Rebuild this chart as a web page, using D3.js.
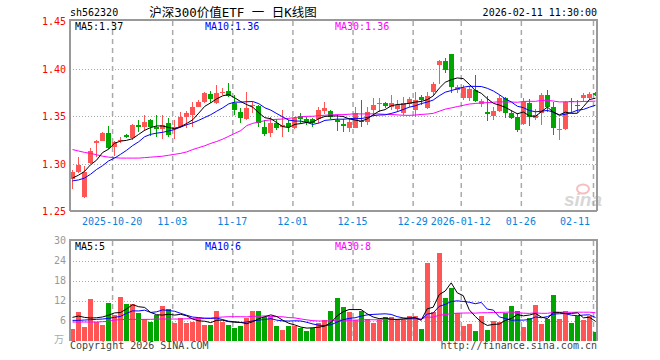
<!DOCTYPE html>
<html><head><meta charset="utf-8">
<script src="https://cdn.jsdelivr.net/npm/d3@7"></script>
<style>
html,body{margin:0;padding:0;background:#fff;}
svg{display:block;}
text{font-family:"DejaVu Sans Mono",monospace;}
</style></head><body>
<svg id="c" width="660" height="360"></svg>
<script>
const dates = [
"2025-10-09","2025-10-10","2025-10-13","2025-10-14","2025-10-15","2025-10-16","2025-10-17","2025-10-20","2025-10-21","2025-10-22",
"2025-10-23","2025-10-24","2025-10-27","2025-10-28","2025-10-29","2025-10-30","2025-10-31","2025-11-03","2025-11-04","2025-11-05",
"2025-11-06","2025-11-07","2025-11-10","2025-11-11","2025-11-12","2025-11-13","2025-11-14","2025-11-17","2025-11-18","2025-11-19",
"2025-11-20","2025-11-21","2025-11-24","2025-11-25","2025-11-26","2025-11-27","2025-11-28","2025-12-01","2025-12-02","2025-12-03",
"2025-12-04","2025-12-05","2025-12-08","2025-12-09","2025-12-10","2025-12-11","2025-12-12","2025-12-15","2025-12-16","2025-12-17",
"2025-12-18","2025-12-19","2025-12-22","2025-12-23","2025-12-24","2025-12-25","2025-12-26","2025-12-29","2025-12-30","2025-12-31",
"2026-01-05","2026-01-06","2026-01-07","2026-01-08","2026-01-09","2026-01-12","2026-01-13","2026-01-14","2026-01-15","2026-01-16",
"2026-01-19","2026-01-20","2026-01-21","2026-01-22","2026-01-23","2026-01-26","2026-01-27","2026-01-28","2026-01-29","2026-01-30",
"2026-02-02","2026-02-03","2026-02-04","2026-02-05","2026-02-06","2026-02-09","2026-02-10","2026-02-11"];

const open = [
1.2837,1.2917,1.2655,1.3005,1.3216,1.3243,1.3320,1.3180,1.3238,1.3303,
1.3270,1.3408,1.3384,1.3461,1.3390,1.3366,1.3426,1.3366,1.3390,1.3496,
1.3514,1.3601,1.3647,1.3732,1.3637,1.3755,1.3767,1.3637,1.3549,1.3468,
1.3612,1.3609,1.3391,1.3321,1.3426,1.3384,1.3433,1.3374,1.3507,1.3472,
1.3468,1.3468,1.3556,1.3556,1.3461,1.3419,1.3381,1.3381,1.3451,1.3437,
1.3567,1.3626,1.3637,1.3602,1.3577,1.3532,1.3626,1.3567,1.3700,1.3584,
1.3753,1.4035,1.4086,1.4156,1.3772,1.3690,1.3690,1.3777,1.3626,1.3549,
1.3504,1.3556,1.3689,1.3539,1.3496,1.3416,1.3637,1.3486,1.3532,1.3725,
1.3602,1.3358,1.3363,1.3665,1.3619,1.3689,1.3696,1.3742];
const high = [
1.2930,1.3068,1.2977,1.3165,1.3255,1.3335,1.3398,1.3235,1.3285,1.3315,
1.3420,1.3460,1.3513,1.3470,1.3513,1.3510,1.3480,1.3460,1.3548,1.3555,
1.3654,1.3672,1.3760,1.3770,1.3830,1.3795,1.3847,1.3725,1.3584,1.3760,
1.3654,1.3620,1.3461,1.3496,1.3468,1.3567,1.3461,1.3496,1.3530,1.3495,
1.3478,1.3595,1.3647,1.3565,1.3514,1.3472,1.3472,1.3602,1.3672,1.3602,
1.3690,1.3690,1.3654,1.3725,1.3672,1.3707,1.3707,1.3753,1.3725,1.3760,
1.3865,1.4093,1.4111,1.4158,1.3830,1.3830,1.3820,1.3935,1.3685,1.3714,
1.3602,1.3725,1.3707,1.3567,1.3530,1.3690,1.3679,1.3574,1.3742,1.3777,
1.3654,1.3479,1.3665,1.3690,1.3672,1.3742,1.3754,1.3754];
const low = [
1.2735,1.2900,1.2645,1.2995,1.3075,1.3235,1.3155,1.3085,1.3216,1.3272,
1.3250,1.3340,1.3349,1.3290,1.3285,1.3260,1.3285,1.3265,1.3375,1.3374,
1.3390,1.3595,1.3637,1.3637,1.3630,1.3725,1.3700,1.3514,1.3433,1.3461,
1.3532,1.3391,1.3296,1.3286,1.3356,1.3286,1.3339,1.3370,1.3430,1.3410,
1.3390,1.3426,1.3525,1.3475,1.3346,1.3332,1.3332,1.3374,1.3391,1.3409,
1.3514,1.3550,1.3584,1.3570,1.3549,1.3514,1.3602,1.3496,1.3619,1.3577,
1.3725,1.3840,1.3953,1.3742,1.3742,1.3670,1.3660,1.3650,1.3597,1.3454,
1.3461,1.3550,1.3486,1.3468,1.3339,1.3409,1.3398,1.3461,1.3409,1.3549,
1.3304,1.3251,1.3356,1.3532,1.3530,1.3654,1.3672,1.3714];
const close = [
1.2917,1.2987,1.2910,1.3135,1.3240,1.3320,1.3163,1.3225,1.3247,1.3279,
1.3410,1.3384,1.3443,1.3390,1.3366,1.3408,1.3303,1.3384,1.3496,1.3532,
1.3601,1.3654,1.3742,1.3682,1.3742,1.3760,1.3718,1.3567,1.3486,1.3584,
1.3619,1.3426,1.3311,1.3433,1.3374,1.3409,1.3384,1.3479,1.3472,1.3437,
1.3426,1.3567,1.3591,1.3496,1.3437,1.3402,1.3437,1.3532,1.3437,1.3549,
1.3619,1.3637,1.3609,1.3637,1.3619,1.3637,1.3682,1.3672,1.3672,1.3710,
1.3835,1.4086,1.3988,1.3805,1.3805,1.3800,1.3790,1.3656,1.3661,1.3521,
1.3556,1.3696,1.3539,1.3486,1.3356,1.3647,1.3496,1.3514,1.3725,1.3602,
1.3374,1.3363,1.3654,1.3660,1.3610,1.3725,1.3732,1.3725];
const volume = [
3.5,8.7,4.1,12.5,5.6,4.7,11.3,7.6,13.1,11.0,
11.0,8.3,6.5,5.6,7.6,10.4,9.5,5.3,6.8,5.3,
5.6,6.8,4.7,4.7,8.9,5.6,4.7,3.8,4.4,6.9,
8.9,8.9,7.0,7.0,4.4,3.3,4.4,4.5,3.8,2.9,
3.8,5.3,6.2,8.9,12.8,10.1,8.7,6.2,8.9,6.5,
5.3,6.2,7.1,7.1,6.2,6.2,7.4,7.4,3.5,23.3,
8.6,26.3,12.8,15.8,8.3,4.4,5.0,2.9,7.4,3.2,
5.9,5.6,8.3,10.4,8.9,4.1,6.8,10.7,5.0,6.5,
13.7,6.5,8.9,5.3,7.4,6.2,7.4,2.7];

// moving-average values before a full window exists
const ma5Head  = [1.285,1.288,1.292,1.299];
const ma10Head = [1.282,1.283,1.285,1.289,1.294,1.298,1.303,1.306,1.310];
const ma30Head = [1.315,1.3135,1.312,1.311,1.3095,1.308,1.307,1.3065,1.306,1.306,1.306,1.306,1.3065,1.307,1.3075,1.308,1.309,1.310,1.311,1.3125,1.315,1.317,1.319,1.3215,1.3235,1.326,1.329,1.332,1.335];
const vma5Head  = [7.0,7.4,7.0,6.8];
const vma10Head = [6.1,6.1,6.2,6.3,6.4,6.5,6.7,7.0,7.3];
const vma30Head = [5.6,5.6,5.6,5.6,5.6,5.7,5.8,6.2,6.3,6.4,6.4,6.4,6.4,6.4,6.5,6.5,6.5,6.5,6.5,6.6,6.6,6.6,6.7,6.8,7.0,7.1,7.2,7.2,7.2];

const priceTicks = [1.25,1.30,1.35,1.40,1.45];
const volTicks = [6,12,18,24,30];
const tickDates  = ["2025-10-20","2025-11-03","2025-11-17","2025-12-01","2025-12-15","2025-12-29","2026-01-12","2026-01-26","2026-02-11"];
const tickLabels = ["2025-10-20","11-03","11-17","12-01","12-15","12-29","2026-01-12","01-26","02-11"];
const priceMaLabels = ["MA5:1.37","MA10:1.36","MA30:1.36"];
const volMaLabels = ["MA5:5","MA10:6","MA30:8"];
const maColors = ["#000000","#0000ff","#ff00ff"];

const RED = "#ff5555", GREEN = "#00a600";
const svg = d3.select("#c");
const L = 70, R = 597;

const x = d3.scaleBand().domain(dates).range([L, L + dates.length * 6]).paddingInner(1/6).paddingOuter(0).align(0);
const bw = x.bandwidth();
const y = d3.scaleLinear().domain([1.25, 1.45]).range([211.3, 21.3]);
const yv = d3.scaleLinear().domain([0, 30]).range([340.7, 240.7]);

function movingAvg(arr, n, head) {
  return arr.map((_, i) => i < n - 1 ? head[i] : d3.mean(arr.slice(i - n + 1, i + 1)));
}
const pMA = [movingAvg(close,5,ma5Head), movingAvg(close,10,ma10Head), movingAvg(close,30,ma30Head)];
const vMA = [movingAvg(volume,5,vma5Head), movingAvg(volume,10,vma10Head), movingAvg(volume,30,vma30Head)];

// header texts
svg.append("text").attr("x", 70).attr("y", 16).attr("font-size", 10).attr("fill", "#000").text("sh562320");
svg.append("text").attr("x", 233).attr("y", 17).attr("text-anchor", "middle")
  .style("font-family", '"DejaVu Sans Mono","Noto Sans CJK SC",monospace')
  .attr("font-size", 12.5).attr("fill", "#000").text("沪深300价值ETF 一 日K线图");
svg.append("text").attr("x", 597).attr("y", 16).attr("text-anchor", "end").attr("font-size", 10).attr("fill", "#000").text("2026-02-11 11:30:00");

// sina watermark
const wm = svg.append("g").attr("opacity", 0.55);
wm.append("text").attr("x", 564).attr("y", 206).attr("font-size", 19).attr("font-weight", "bold").attr("font-style", "italic")
  .style("font-family", "Liberation Sans, Arial, sans-serif").attr("fill", "#b8b8b8").text("sina");
wm.append("ellipse").attr("cx", 583).attr("cy", 189).attr("rx", 6).attr("ry", 4.5).attr("fill", "none").attr("stroke", "#f08a8a").attr("stroke-width", 2);

// gridlines
const grid = svg.append("g");
[1.30, 1.35, 1.40].forEach(v => {
  grid.append("line").attr("x1", L).attr("x2", R).attr("y1", Math.round(y(v)) + 0.5).attr("y2", Math.round(y(v)) + 0.5)
    .attr("stroke", "#aaa").attr("stroke-dasharray", "1,2");
});
volTicks.slice(0, 4).forEach(v => {
  grid.append("line").attr("x1", L).attr("x2", R).attr("y1", Math.round(yv(v)) + 0.5).attr("y2", Math.round(yv(v)) + 0.5)
    .attr("stroke", "#aaa").attr("stroke-dasharray", "1,2");
});
tickDates.forEach(d => {
  const xx = x(d) + 0.5;
  grid.append("line").attr("x1", xx).attr("x2", xx).attr("y1", 21).attr("y2", 211).attr("stroke", "#aaa").attr("stroke-width", 1.5).attr("stroke-dasharray", "5,4");
  grid.append("line").attr("x1", xx).attr("x2", xx).attr("y1", 241).attr("y2", 341).attr("stroke", "#aaa").attr("stroke-width", 1.5).attr("stroke-dasharray", "5,4");
});

// candles
const cg = svg.append("g").attr("shape-rendering", "crispEdges");
dates.forEach((d, i) => {
  const up = close[i] >= open[i];
  const col = up ? RED : GREEN;
  const cx = x(d) + 2;
  cg.append("rect").attr("x", cx).attr("width", 1).attr("y", y(high[i])).attr("height", Math.max(1, y(low[i]) - y(high[i]))).attr("fill", col);
  const top = y(Math.max(open[i], close[i])), bot = y(Math.min(open[i], close[i]));
  cg.append("rect").attr("x", x(d)).attr("width", bw).attr("y", top).attr("height", Math.max(1, bot - top)).attr("fill", col);
  cg.append("rect").attr("x", x(d)).attr("width", bw).attr("y", yv(volume[i])).attr("height", yv(0) - yv(volume[i])).attr("fill", col);
});

// MA lines
const xc = (d, i) => x(dates[i]) + 2.5;
[2, 1, 0].forEach(k => {
  svg.append("path").datum(pMA[k]).attr("fill", "none").attr("stroke", maColors[k]).attr("stroke-width", 1)
    .attr("d", d3.line().x(xc).y(v => y(v)));
  svg.append("path").datum(vMA[k]).attr("fill", "none").attr("stroke", maColors[k]).attr("stroke-width", 1)
    .attr("d", d3.line().x(xc).y(v => yv(v)));
});

// frames
const fr = svg.append("g").attr("fill", "none").attr("stroke", "#999").attr("stroke-width", 2).attr("shape-rendering", "crispEdges");
fr.append("path").attr("d", `M${L},211 V20 H${R} V211`);
fr.append("path").attr("d", `M${L},341 V240 H${R} V341`);
fr.append("path").attr("d", `M${L},211 H${R}`);

// price axis labels
const ya = svg.append("g").attr("transform", `translate(${L - 4},0)`)
  .call(d3.axisLeft(y).tickValues(priceTicks).tickFormat(d3.format(".2f")).tickSize(0).tickPadding(0));
ya.select(".domain").remove();
ya.selectAll("text").attr("fill", "#f00").attr("font-size", 10).style("font-family", '"DejaVu Sans Mono",monospace');

const va = svg.append("g").attr("transform", `translate(${L - 4},0)`)
  .call(d3.axisLeft(yv).tickValues(volTicks).tickFormat(d3.format("d")).tickSize(0).tickPadding(0));
va.select(".domain").remove();
va.selectAll("text").attr("fill", "#999").attr("font-size", 10).style("font-family", '"DejaVu Sans Mono",monospace');
svg.append("text").attr("x", 64).attr("y", 343).attr("text-anchor", "end").attr("font-size", 10)
  .style("font-family", '"Noto Sans CJK SC",sans-serif').attr("fill", "#aaa").text("万");

// date labels
tickDates.forEach((d, i) => {
  const last = i === tickDates.length - 1;
  svg.append("text").attr("x", last ? 590 : x(d)).attr("y", 225).attr("text-anchor", last ? "end" : "middle")
    .attr("font-size", 10).attr("fill", "#0a82dc").text(tickLabels[i]);
});

// MA legends
const legX = [75, 205, 335];
priceMaLabels.forEach((t, k) => svg.append("text").attr("x", legX[k]).attr("y", 30).attr("font-size", 10).attr("fill", maColors[k]).text(t));
volMaLabels.forEach((t, k) => svg.append("text").attr("x", legX[k]).attr("y", 250).attr("font-size", 10).attr("fill", maColors[k]).text(t));

// footer
svg.append("text").attr("x", 70).attr("y", 349).attr("font-size", 10).attr("fill", "#444").text("Copyright 2026 SINA.COM");
svg.append("text").attr("x", 597).attr("y", 349).attr("text-anchor", "end").attr("font-size", 10).attr("fill", "#444").text("http://finance.sina.com.cn");
</script>
</body></html>
